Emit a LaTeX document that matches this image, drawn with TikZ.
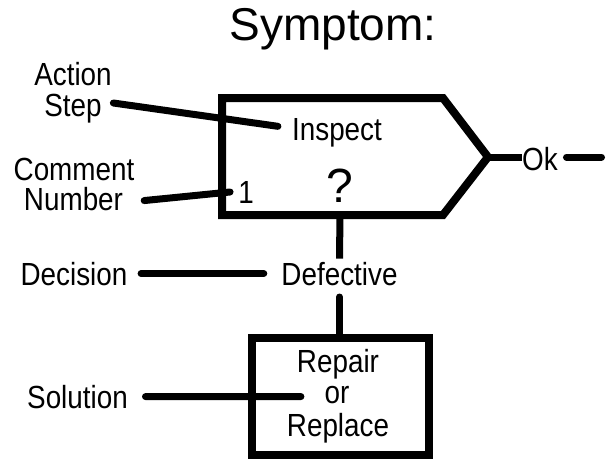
\documentclass[tikz,border=0pt]{standalone}
\usepackage{fontspec}
\setmainfont{Liberation Sans}
\newfontfamily\narrowsans{Liberation Sans}[FakeStretch=0.87]
\begin{document}
\begin{tikzpicture}[x=1pt,y=-1pt,
  lbl/.style={font=\narrowsans\fontsize{32}{34}\selectfont, inner sep=0pt, anchor=base},
  big/.style={font=\fontsize{46}{50}\selectfont, inner sep=0pt, anchor=base},
  conn/.style={line width=7pt, line cap=round},
  frame/.style={line width=8pt, line join=miter}]
\useasboundingbox (0,0) rectangle (614,459);
% title
\node[big] (title) at (333,40) {Symptom:};
% main decision shape
\coordinate (tip) at (488,157);
\draw[frame] (222,98) -- (443,98) -- (tip) -- (443,215) -- (222,215) -- cycle;
\node[lbl] (inspect) at (337,140) {Inspect};
\node[lbl] (one) at (246,203) {1};
\node[big, font=\fontsize{48}{50}\selectfont] (q) at (340,202) {?};
% labels left
\node[lbl, font=\narrowsans\fontsize{32}{30.5}\selectfont, align=center, anchor=north] (actionstep) at (73,62.5) {Action\\Step};
\node[lbl] (comment) at (74,180) {Comment};
\node[lbl] (number) at (73.5,210) {Number};
\node[lbl] (decision) at (74,285) {Decision};
\node[lbl] (solution) at (77.5,408) {Solution};
% Ok branch
\node[lbl] (ok) at (540,170) {Ok};
\coordinate (okend) at (601.5,157);
% defective
\node[lbl] (defective) at (339.5,285) {Defective};
% solution box
\node[draw, frame, minimum width=177pt, minimum height=117pt, inner sep=0pt, outer sep=0pt] (solbox) at (340.5,396.5) {};
\node[lbl] (repair) at (338,372) {Repair};
\node[lbl] (orw) at (337,403) {or};
\node[lbl] (replace) at (338,436) {Replace};
% connectors
\draw[conn] (actionstep.south east |- 0,103) ++(1.5,0) -- ([shift={(-14,-6)}]inspect.west);
\draw[conn] ([shift={(21,2)}]number.east) -- ([shift={(-8,0)}]one.west);
\draw[conn, line cap=butt] (tip) -- (tip -| ok.west);
\draw[conn] ([xshift=8.5pt]ok.east |- okend) -- (okend);
\draw[conn, line cap=butt] (340,215) -- ([yshift=3pt]defective.north);
\draw[conn] ([yshift=-11.5pt]defective.south) -- (defective.south |- solbox.north);
\draw[conn] ([shift={(13.5,0)}]decision.east) -- ([shift={(-17.5,0)}]defective.west);
\draw[conn] ([shift={(17.5,0)}]solution.east) -- ([shift={(-23.5,2)}]orw.west);
\end{tikzpicture}
\end{document}
